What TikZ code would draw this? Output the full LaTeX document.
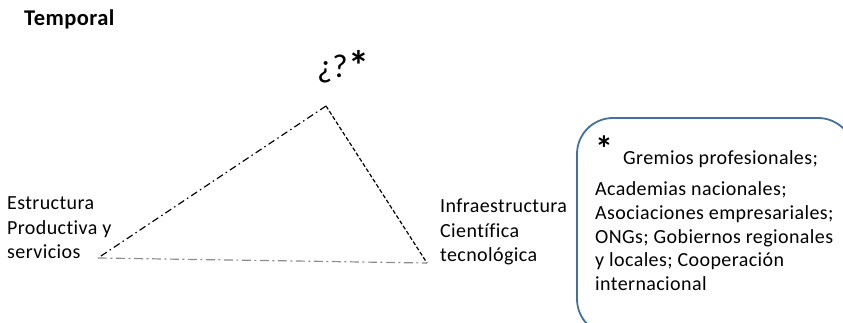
\documentclass[tikz,border=0pt]{standalone}
\usepackage{fontspec}
\setmainfont[Ligatures=CommonOff,LetterSpace=2]{Carlito}
\newfontfamily\plainfont{Carlito}
\begin{document}
\begin{tikzpicture}[x=1pt,y=-1pt,
  txt/.style={inner sep=0pt,anchor=base west,align=left,
    font=\fontsize{20}{24}\selectfont},
  edge/.style={line width=1.2pt},
  vtx/.style={inner sep=0pt,minimum size=0pt}]
\definecolor{boxblue}{RGB}{65,113,156}
\definecolor{lightline}{RGB}{140,140,140}
\useasboundingbox (0,0) rectangle (843,323);
\clip (0,0) rectangle (843,323);

% title
\node[txt,font=\fontsize{22.5}{24}\selectfont\bfseries] (title) at (24,26) {Temporal};

% triangle vertices
\coordinate (apex) at (326,106);
\coordinate (left) at (98,258);
\coordinate (right) at (427,263);

% apex label
\node[inner sep=0pt,anchor=base west,font=\plainfont\fontsize{33}{33}\selectfont] (q) at (317,78)
  {¿?\hspace{1pt}\raisebox{-3pt}{\fontsize{42}{42}\selectfont\bfseries *}};

% triangle sides
\draw[edge,dash pattern=on 7pt off 3.5pt on 1.5pt off 3.5pt] (apex) -- (left);
\draw[edge,dash pattern=on 4pt off 2.2pt] (apex) -- (right);
\draw[edge,lightline,dash pattern=on 9pt off 3.5pt on 2pt off 3.5pt] (left) -- (right);

% vertex labels
\node[txt] (prod) at (7,210) {Estructura};
\node[txt] (prod2) at (7,234) {Productiva y};
\node[txt] (prod3) at (7,258) {servicios};

\node[txt] (infra) at (440,213) {Infraestructura};
\node[txt] (infra2) at (440,237) {Científica};
\node[txt] (infra3) at (440,261) {tecnológica};

% actors box
\draw[boxblue,line width=1.8pt,rounded corners=36pt] (577,118) rectangle (854,335);
\node[inner sep=0pt,anchor=base west,font=\plainfont\fontsize{36}{36}\selectfont\bfseries] (star) at (595,162) {*};
\node[txt] (gremios) at (623,165) {Gremios profesionales;};
\node[txt] (acad) at (595,196) {Academias nacionales;};
\node[txt] (asoc) at (595,219.5) {Asociaciones empresariales;};
\node[txt] (ong) at (595,243) {ONGs; Gobiernos regionales};
\node[txt] (loc) at (595,266.5) {y locales; Cooperación};
\node[txt] (intl) at (595,290) {internacional};
\end{tikzpicture}
\end{document}
